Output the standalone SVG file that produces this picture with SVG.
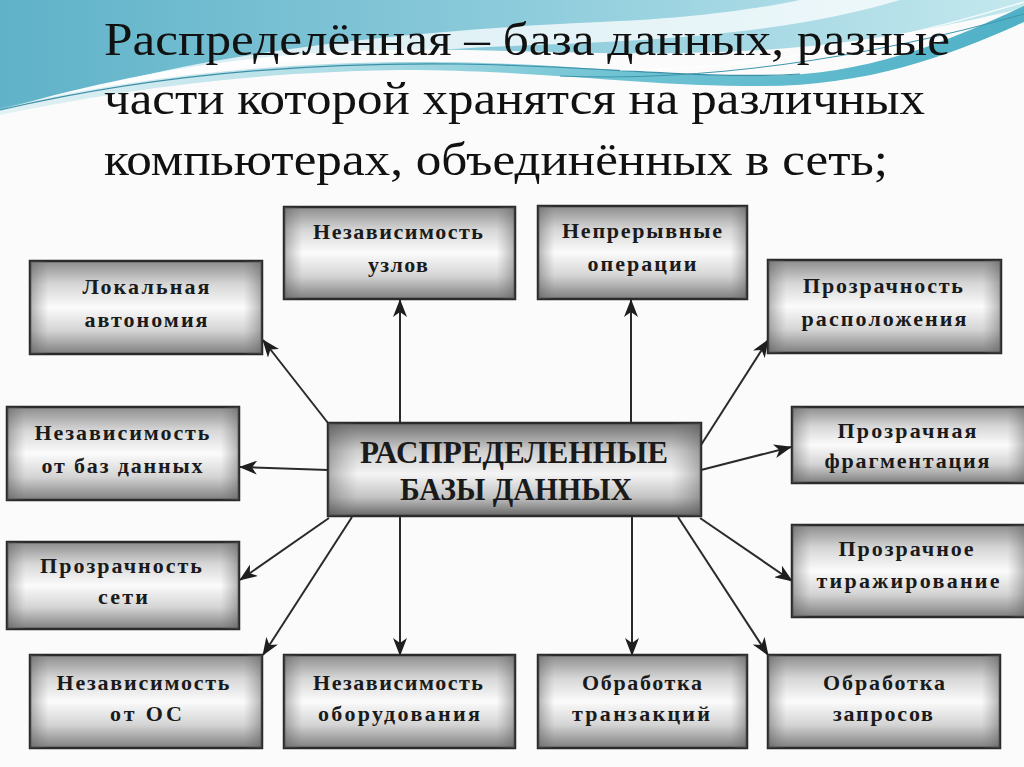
<svg xmlns="http://www.w3.org/2000/svg" width="1024" height="767" viewBox="0 0 1024 767">
<defs>
<style>
.title{font-family:"Liberation Serif","Times New Roman",serif;font-size:46px;fill:#111;}
.bt{font-family:"Liberation Serif","Times New Roman",serif;font-size:22px;font-weight:bold;fill:#1a1a1a;text-anchor:middle;}
.ct{font-family:"Liberation Serif","Times New Roman",serif;font-size:31px;font-weight:bold;fill:#1a1a1a;text-anchor:middle;}
.box{stroke:#2a2a2a;stroke-width:2.5;}
.conn line{stroke:#2a2a2a;stroke-width:2;marker-end:url(#ah);}
</style>
<linearGradient id="gv" x1="0" y1="0" x2="0" y2="1">
<stop offset="0" stop-color="#8c8c8c"/>
<stop offset="0.25" stop-color="#d6d6d6"/>
<stop offset="0.5" stop-color="#fbfbfb"/>
<stop offset="0.75" stop-color="#d4d4d4"/>
<stop offset="1" stop-color="#7e7e7e"/>
</linearGradient>
<linearGradient id="gh" x1="0" y1="0" x2="1" y2="0">
<stop offset="0" stop-color="#555" stop-opacity="0.45"/>
<stop offset="0.08" stop-color="#777" stop-opacity="0"/>
<stop offset="0.92" stop-color="#777" stop-opacity="0"/>
<stop offset="1" stop-color="#555" stop-opacity="0.45"/>
</linearGradient>
<linearGradient id="gc" x1="0" y1="0" x2="0" y2="1">
<stop offset="0" stop-color="#6e6e6e"/>
<stop offset="0.3" stop-color="#cfcfcf"/>
<stop offset="0.55" stop-color="#f4f4f4"/>
<stop offset="0.8" stop-color="#c2c2c2"/>
<stop offset="1" stop-color="#666"/>
</linearGradient>
<linearGradient id="teal" x1="0" y1="0" x2="1" y2="0">
<stop offset="0" stop-color="#5fb2c8"/>
<stop offset="0.5" stop-color="#8ccbdb"/>
<stop offset="1" stop-color="#c4e8ee"/>
</linearGradient>
<linearGradient id="teal2" x1="0" y1="0" x2="1" y2="0">
<stop offset="0" stop-color="#a9dce5" stop-opacity="0.3"/>
<stop offset="0.6" stop-color="#6fc3d3"/>
<stop offset="1" stop-color="#4fb0c6"/>
</linearGradient>
<marker id="ah" viewBox="0 0 18 14" refX="17" refY="7" markerWidth="18" markerHeight="14" markerUnits="userSpaceOnUse" orient="auto">
<path d="M0,0 L18,7 L0,14 L5,7 Z" fill="#1e1e1e"/>
</marker>
</defs>

<rect width="1024" height="767" fill="#fbfbfb"/>

<g id="background-waves">
<path d="M0,0 H1024 V8 C930,30 840,48 720,52 C560,58 420,40 260,58 C150,70 70,90 0,110 Z" fill="url(#teal)"/>
<path d="M80,92 C220,50 420,30 600,22 C700,18 760,8 800,0 L900,0 C820,24 720,38 560,44 C400,50 250,62 80,92 Z" fill="#ffffff" fill-opacity="0.75"/>
<path d="M0,108 C120,80 260,62 420,62 C560,62 640,76 760,76 C870,76 950,40 1024,6 L1024,22 C950,55 870,86 760,86 C640,86 560,72 420,70 C260,70 120,90 0,115 Z" fill="url(#teal2)"/>
<path d="M0,110 C150,75 300,62 460,64 C600,66 700,80 800,74" fill="none" stroke="#3d8fa8" stroke-width="1.2"/>
<path d="M560,76 C700,82 860,60 1024,14" fill="none" stroke="#3d97ad" stroke-width="1"/>
<path d="M620,70 C760,70 900,40 1024,2" fill="none" stroke="#ffffff" stroke-width="1.5" stroke-opacity="0.8"/>
</g>

<g id="title">
<text class="title" x="104" y="55" textLength="846" lengthAdjust="spacingAndGlyphs">Распределённая – база данных, разные</text>
<text class="title" x="104" y="114" textLength="821" lengthAdjust="spacingAndGlyphs">части которой хранятся на различных</text>
<text class="title" x="104" y="175" textLength="784" lengthAdjust="spacingAndGlyphs">компьютерах, объединённых в сеть;</text>
</g>

<g class="conn" id="connectors">
<line x1="400" y1="423" x2="400" y2="300"/>
<line x1="631" y1="423" x2="631" y2="300"/>
<line x1="328" y1="423" x2="263" y2="340"/>
<line x1="328" y1="470" x2="240" y2="467"/>
<line x1="701" y1="445" x2="768" y2="340"/>
<line x1="701" y1="470" x2="791" y2="447"/>
<line x1="329" y1="518" x2="240" y2="580"/>
<line x1="352" y1="517" x2="263" y2="655"/>
<line x1="400" y1="516" x2="400" y2="655"/>
<line x1="632" y1="516" x2="632" y2="655"/>
<line x1="700" y1="518" x2="792" y2="581"/>
<line x1="678" y1="517" x2="768" y2="655"/>
</g>

<g id="center">
<rect class="box" x="328" y="423" width="373" height="93" fill="url(#gc)"/>
<rect x="328" y="423" width="373" height="93" fill="url(#gh)"/>
<text class="ct" x="514" y="463" textLength="308" lengthAdjust="spacingAndGlyphs">РАСПРЕДЕЛЕННЫЕ</text>
<text class="ct" x="516" y="500" textLength="232" lengthAdjust="spacingAndGlyphs">БАЗЫ ДАННЫХ</text>
</g>

<g id="node-uzlov">
<rect class="box" x="284" y="207" width="231" height="92" fill="url(#gv)"/>
<rect x="284" y="207" width="231" height="92" fill="url(#gh)"/>
<text class="bt" x="398" y="239" textLength="170">Независимость</text>
<text class="bt" x="398" y="272" textLength="60">узлов</text>
</g>

<g id="node-operacii">
<rect class="box" x="538" y="206" width="209" height="93" fill="url(#gv)"/>
<rect x="538" y="206" width="209" height="93" fill="url(#gh)"/>
<text class="bt" x="642" y="238" textLength="160">Непрерывные</text>
<text class="bt" x="642" y="271" textLength="109">операции</text>
</g>

<g id="node-avtonomiya">
<rect class="box" x="30" y="261" width="232" height="93" fill="url(#gv)"/>
<rect x="30" y="261" width="232" height="93" fill="url(#gh)"/>
<text class="bt" x="146" y="294" textLength="127">Локальная</text>
<text class="bt" x="146" y="327" textLength="123">автономия</text>
</g>

<g id="node-raspolozheniya">
<rect class="box" x="768" y="260" width="233" height="93" fill="url(#gv)"/>
<rect x="768" y="260" width="233" height="93" fill="url(#gh)"/>
<text class="bt" x="883" y="293" textLength="160">Прозрачность</text>
<text class="bt" x="884" y="326" textLength="165">расположения</text>
</g>

<g id="node-ot-baz">
<rect class="box" x="7" y="407" width="232" height="93" fill="url(#gv)"/>
<rect x="7" y="407" width="232" height="93" fill="url(#gh)"/>
<text class="bt" x="122" y="440" textLength="175">Независимость</text>
<text class="bt" x="122" y="473" textLength="161">от баз данных</text>
</g>

<g id="node-fragmentaciya">
<rect class="box" x="792" y="407" width="234" height="76" fill="url(#gv)"/>
<rect x="792" y="407" width="234" height="76" fill="url(#gh)"/>
<text class="bt" x="907" y="438" textLength="139">Прозрачная</text>
<text class="bt" x="907" y="468" textLength="165">фрагментация</text>
</g>

<g id="node-seti">
<rect class="box" x="7" y="542" width="232" height="87" fill="url(#gv)"/>
<rect x="7" y="542" width="232" height="87" fill="url(#gh)"/>
<text class="bt" x="121" y="573" textLength="162">Прозрачность</text>
<text class="bt" x="123" y="604" textLength="50">сети</text>
</g>

<g id="node-tirazhirovanie">
<rect class="box" x="792" y="525" width="234" height="92" fill="url(#gv)"/>
<rect x="792" y="525" width="234" height="92" fill="url(#gh)"/>
<text class="bt" x="906" y="556" textLength="135">Прозрачное</text>
<text class="bt" x="908" y="588" textLength="183">тиражирование</text>
</g>

<g id="node-os">
<rect class="box" x="30" y="655" width="232" height="93" fill="url(#gv)"/>
<rect x="30" y="655" width="232" height="93" fill="url(#gh)"/>
<text class="bt" x="143" y="690" textLength="173">Независимость</text>
<text class="bt" x="146" y="721" textLength="72">от ОС</text>
</g>

<g id="node-oborudovaniya">
<rect class="box" x="284" y="655" width="231" height="93" fill="url(#gv)"/>
<rect x="284" y="655" width="231" height="93" fill="url(#gh)"/>
<text class="bt" x="398" y="690" textLength="170">Независимость</text>
<text class="bt" x="399" y="721" textLength="162">оборудования</text>
</g>

<g id="node-tranzakcii">
<rect class="box" x="538" y="655" width="209" height="93" fill="url(#gv)"/>
<rect x="538" y="655" width="209" height="93" fill="url(#gh)"/>
<text class="bt" x="642" y="690" textLength="120">Обработка</text>
<text class="bt" x="641" y="721" textLength="138">транзакций</text>
</g>

<g id="node-zaprosov">
<rect class="box" x="768" y="655" width="232" height="93" fill="url(#gv)"/>
<rect x="768" y="655" width="232" height="93" fill="url(#gh)"/>
<text class="bt" x="884" y="690" textLength="122">Обработка</text>
<text class="bt" x="883" y="721" textLength="100">запросов</text>
</g>
</svg>
